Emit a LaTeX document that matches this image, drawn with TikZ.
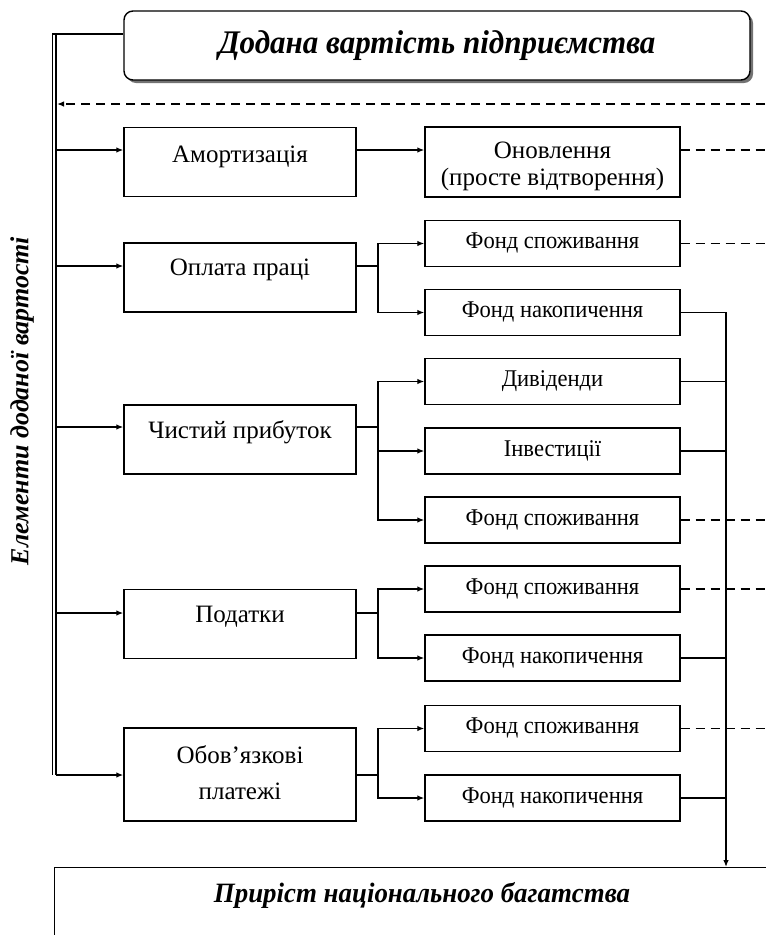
\documentclass[tikz,border=0pt]{standalone}
\usepackage{graphicx}
\usepackage{fontspec}
\setmainfont{Liberation Serif}
\usetikzlibrary{arrows.meta,shadows}
\newcommand{\nx}[2][0.94]{\scalebox{#1}[1]{#2}}
\begin{document}
\begin{tikzpicture}[x=1pt,y=-1pt,
  box/.style={draw, line width=1.4pt, inner sep=0pt, fill=white},
  lbox/.style={box, minimum width=232pt, minimum height=69pt},
  rbox/.style={box, minimum width=255pt, minimum height=46pt},
  ln/.style={line width=1.3pt},
  arr/.style={line width=1.3pt, -{Latex[length=7pt,width=5.5pt]}},
  dsh/.style={line width=1.3pt, dash pattern=on 9pt off 6pt},
  ltxt/.style={inner sep=0pt, font=\fontsize{25}{27}\selectfont, align=center},
  rtxt/.style={inner sep=0pt, font=\fontsize{24}{26}\selectfont, align=center},
  ttl/.style={inner sep=0pt, font=\fontsize{33}{38}\selectfont\bfseries\itshape},
]
\useasboundingbox (0,0) rectangle (766,935);
\clip (0,0) rectangle (766,935);

% top box
\node[box, rounded corners=9pt, minimum width=626pt, minimum height=69pt,
      drop shadow={shadow xshift=3pt, shadow yshift=-3pt, fill=black!55, opacity=1}]
      (top) at (437,45.5) {};
\node[ttl] (toptxt) at (437,46) {\nx{Додана вартість підприємства}};

% left column
\node[lbox] (am) at (240,162) {};
\node[ltxt] (amt) at (240,157) {Амортизація};
\node[lbox] (op) at (240,277.5) {};
\node[ltxt] (opt) at (240,270) {Оплата праці};
\node[lbox] (cp) at (240,439.5) {};
\node[ltxt] (cpt) at (240,432) {Чистий прибуток};
\node[lbox] (pd) at (240,624) {};
\node[ltxt] (pdt) at (240,617) {Податки};
\node[lbox, minimum height=93pt] (ob) at (240,774.5) {};
\node[ltxt, font=\fontsize{25}{36}\selectfont] (obt) at (240,773) {Обов’язкові\\платежі};

% right column
\node[box, minimum width=255pt, minimum height=70pt] (on) at (552.5,162) {};
\node[ltxt] (ont) at (552.5,166) {Оновлення\\(просте відтворення)};
\node[rbox] (fs1) at (552.5,243.5) {}; \node[rtxt] (fs1t) at (552.5,243) {\nx{Фонд споживання}};
\node[rbox] (fn1) at (552.5,312.5) {}; \node[rtxt] (fn1t) at (552.5,312) {\nx{Фонд накопичення}};
\node[rbox] (dv)  at (552.5,381.5) {}; \node[rtxt] (dvt)  at (552.5,381) {\nx{Дивіденди}};
\node[rbox] (inv) at (552.5,451) {};   \node[rtxt] (invt) at (552.5,450.5) {\nx{Інвестиції}};
\node[rbox] (fs2) at (552.5,520) {};   \node[rtxt] (fs2t) at (552.5,519.5) {\nx{Фонд споживання}};
\node[rbox] (fs3) at (552.5,589) {};   \node[rtxt] (fs3t) at (552.5,588.5) {\nx{Фонд споживання}};
\node[rbox] (fn2) at (552.5,658) {};   \node[rtxt] (fn2t) at (552.5,657.5) {\nx{Фонд накопичення}};
\node[rbox] (fs4) at (552.5,728.5) {}; \node[rtxt] (fs4t) at (552.5,728) {\nx{Фонд споживання}};
\node[rbox] (fn3) at (552.5,798) {};   \node[rtxt] (fn3t) at (552.5,797.5) {\nx{Фонд накопичення}};

% bottom box
\node[box, minimum width=760pt, minimum height=110pt, anchor=north west] (bot) at (54,867) {};
\node[ttl, font=\fontsize{28}{32}\selectfont\bfseries\itshape] (bott) at (422,895) {\nx[0.96]{Приріст національного багатства}};

% vertical label
\node[ttl, font=\fontsize{26}{30}\selectfont\bfseries\itshape, rotate=90] (vt) at (22,401) {Елементи доданої вартості};

% double line
\coordinate (dT) at (54,34);
\coordinate (dB) at (54,775);
\draw[line width=1.3pt, double, double distance=2.4pt] (dT) -- (dB);
\coordinate (dTl) at (52,34);
\draw[ln] (dTl) -- (dTl -| top.west);

% dashed feedback arrow
\coordinate (fbR) at (780,104);
\coordinate (fbL) at (57,104);
\draw[dsh, -{Latex[length=7pt,width=5.5pt]}] (fbR) -- (fbL);

% entry arrows
\coordinate (l1) at (56,150);
\coordinate (l2) at (56,266);
\coordinate (l3) at (56,427);
\coordinate (l4) at (56,613);
\coordinate (l5) at (56,775);
\draw[arr] (l1) -- (l1 -| am.west);
\draw[arr] (l2) -- (l2 -| op.west);
\draw[arr] (l3) -- (l3 -| cp.west);
\draw[arr] (l4) -- (l4 -| pd.west);
\draw[arr] (l5) -- (l5 -| ob.west);

% amortization
\draw[arr] (l1 -| am.east) -- (l1 -| on.west);
\draw[dsh] (l1 -| on.east) -- ++(120,0);

% forks
\coordinate (f2) at (378,266);
\coordinate (f3) at (378,427);
\coordinate (f4) at (378,613);
\coordinate (f5) at (378,775);
\draw[ln] (l2 -| op.east) -- (f2);
\draw[arr] (f2) |- (fs1.west);
\draw[arr] (f2) |- (fn1.west);
\draw[ln] (l3 -| cp.east) -- (f3);
\draw[arr] (f3) |- (dv.west);
\draw[arr] (f3) |- (inv.west);
\draw[arr] (f3) |- (fs2.west);
\draw[ln] (l4 -| pd.east) -- (f4);
\draw[arr] (f4) |- (fs3.west);
\draw[arr] (f4) |- (fn2.west);
\draw[ln] (l5 -| ob.east) -- (f5);
\draw[arr] (f5) |- (fs4.west);
\draw[arr] (f5) |- (fn3.west);

% collector
\coordinate (vb) at (726,867);
\draw[arr] (fn1.east) -| (vb);
\draw[ln] (dv.east) -- (dv.east -| vb);
\draw[ln] (inv.east) -- (inv.east -| vb);
\draw[ln] (fn2.east) -- (fn2.east -| vb);
\draw[ln] (fn3.east) -- (fn3.east -| vb);

% dashed outputs
\draw[dsh] (fs1.east) -- ++(120,0);
\draw[dsh] (fs2.east) -- ++(120,0);
\draw[dsh] (fs3.east) -- ++(120,0);
\draw[dsh] (fs4.east) -- ++(120,0);
\end{tikzpicture}
\end{document}
